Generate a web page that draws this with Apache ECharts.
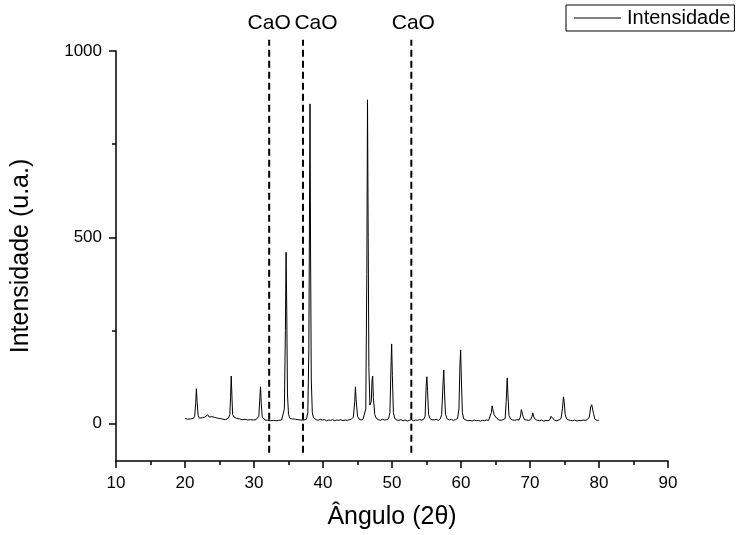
<!DOCTYPE html>
<html>
<head>
<meta charset="utf-8">
<script src="https://cdn.jsdelivr.net/npm/echarts@6/dist/echarts.min.js"></script>
<style>html,body{margin:0;padding:0;background:#fff;}#c{width:742px;height:535px;}</style>
</head>
<body>
<div id="c"></div>
<script>
// 2θ angles and measured intensities
const angles = [
20.0,20.2,20.4,20.6,20.8,21.0,21.2,21.4,21.55,21.65,21.75,21.9,22.1,22.3,22.5,22.7,22.9,23.1,23.3,23.5,23.7,23.9,24.1,24.3,24.5,24.7,24.9,25.1,25.3,25.5,25.7,25.9,26.1,26.3,26.5,26.6,26.7,26.8,26.9,27.1,27.3,27.5,27.7,27.9,28.1,28.3,28.5,28.7,28.9,29.1,29.3,29.5,29.7,29.9,30.1,30.3,30.5,30.7,30.85,30.95,31.05,31.2,31.4,31.6,31.8,32.0,32.2,32.4,32.6,32.8,33.0,33.2,33.4,33.6,33.8,34.0,34.2,34.4,34.55,34.65,34.75,34.85,35.0,35.2,35.4,35.6,35.8,36.0,36.2,36.4,36.6,36.8,37.0,37.2,37.4,37.6,37.8,37.95,38.05,38.12,38.2,38.3,38.45,38.6,38.8,39.0,39.3,39.6,39.9,40.2,40.5,40.8,41.1,41.4,41.7,42.0,42.3,42.6,42.9,43.2,43.5,43.8,44.1,44.4,44.6,44.7,44.8,45.0,45.2,45.5,45.8,46.0,46.2,46.35,46.45,46.55,46.65,46.8,47.0,47.1,47.2,47.3,47.5,47.7,48.0,48.3,48.6,48.9,49.2,49.5,49.7,49.85,49.95,50.05,50.2,50.4,50.7,51.0,51.3,51.6,51.9,52.2,52.5,52.8,53.1,53.4,53.7,54.0,54.3,54.6,54.8,54.95,55.05,55.15,55.3,55.5,55.8,56.1,56.4,56.7,57.0,57.2,57.4,57.5,57.6,57.75,58.0,58.3,58.6,58.9,59.2,59.5,59.7,59.85,59.95,60.05,60.2,60.4,60.7,61.0,61.3,61.6,61.9,62.2,62.5,62.8,63.1,63.4,63.7,64.0,64.2,64.4,64.5,64.6,64.8,65.0,65.2,65.5,65.8,66.1,66.4,66.55,66.7,66.8,66.95,67.2,67.5,67.8,68.1,68.4,68.6,68.75,68.85,69.0,69.2,69.5,69.8,70.1,70.3,70.4,70.55,70.8,71.1,71.4,71.7,72.0,72.3,72.6,72.9,73.05,73.15,73.3,73.6,73.9,74.2,74.5,74.7,74.85,74.95,75.1,75.3,75.6,75.9,76.2,76.5,76.8,77.1,77.4,77.7,78.0,78.3,78.6,78.8,78.95,79.05,79.2,79.4,79.6,79.8,80.0
];
const intensity = [
14,16,12,15,13,17,14,20,55,94,60,22,15,13,16,12,18,16,24,18,22,19,21,17,20,15,17,14,16,12,14,11,13,15,25,70,128,75,25,18,20,14,16,13,15,11,13,12,14,10,13,11,12,10,13,11,14,20,70,99,55,18,13,10,12,9,11,8,10,9,11,8,10,9,11,10,13,40,250,460,300,80,25,14,11,13,10,12,9,11,8,10,7,10,9,12,30,200,600,858,450,120,30,17,13,11,9,12,10,11,8,10,9,11,8,10,9,11,8,10,9,11,12,18,60,99,65,20,13,10,12,14,40,400,869,500,150,50,60,115,128,70,25,15,11,9,12,10,11,13,30,150,214,130,30,14,10,9,11,8,10,7,9,11,8,10,9,11,10,12,20,100,126,90,25,14,11,10,12,9,13,25,110,144,90,25,13,10,12,9,11,14,40,160,198,120,30,13,10,8,9,7,10,8,9,7,9,8,10,9,12,30,48,40,24,20,14,10,9,11,14,60,123,80,22,12,10,9,11,10,18,38,40,20,11,10,9,11,20,29,18,11,9,8,10,7,9,8,11,20,24,14,9,8,10,14,40,72,60,25,13,10,9,8,10,7,9,8,10,9,11,18,45,51,48,28,12,9,8,10
];
// CaO reference lines
const caoAngles = [32.2, 37.1, 52.8];
const caoLabel = 'CaO';
const caoSpan = [-78, 1030];
// axis ticks
const xTicks = [10, 90, 10];
const yMajor = [0, 500, 1000];
const yMinor = [250, 750];
const yRange = [-100, 1000];

const font = 'Liberation Sans';
const labelPad = [[0, 0, 0, 0], [0, 0, 0, 26], [0, 0, 0, 4]];
const mainData = angles.map((a, i) => [a, intensity[i]]);
const caoSeries = caoAngles.map((a, k) => ({
  type: 'line',
  silent: true,
  clip: false,
  symbol: 'none',
  z: 1,
  labelLayout: { hideOverlap: false },
  lineStyle: { color: '#000', width: 2, type: [7, 4] },
  data: [
    [a, caoSpan[0]],
    { value: [a, caoSpan[1]], symbol: 'circle', symbolSize: 0,
      label: { show: true, formatter: caoLabel, position: 'top', distance: 6, padding: labelPad[k],
        fontFamily: font, fontSize: 21, color: '#000' } }
  ]
}));

const chart = echarts.init(document.getElementById('c'), null, { renderer: 'canvas' });
chart.setOption({
  animation: false,
  backgroundColor: '#fff',
  grid: { left: 116, right: 74, top: 51, bottom: 73, containLabel: false },
  legend: {
    data: [{ name: 'Intensidade', icon: 'rect' }],
    left: 566, top: 5,
    borderColor: '#000', borderWidth: 1, borderRadius: 0,
    padding: [3, 4, 3, 8],
    itemWidth: 47, itemHeight: 1, itemGap: 6,
    itemStyle: { color: '#000', borderWidth: 0 },
    textStyle: { fontFamily: font, fontSize: 20, color: '#000', padding: [0, 0, 0, 1] }
  },
  xAxis: {
    type: 'value', min: xTicks[0], max: xTicks[1], interval: xTicks[2],
    name: 'Ângulo (2θ)', nameLocation: 'middle', nameGap: 44,
    nameTextStyle: { fontFamily: font, fontSize: 25, color: '#000' },
    axisLine: { show: true, onZero: false, lineStyle: { color: '#000', width: 1.5 } },
    axisTick: { show: true, inside: false, length: 7, lineStyle: { color: '#000', width: 1.5 } },
    minorTick: { show: true, splitNumber: 2, length: 4, lineStyle: { color: '#000', width: 1.5 } },
    axisLabel: { fontFamily: font, fontSize: 17, color: '#000', margin: 14, formatter: v => String(v) },
    splitLine: { show: false }
  },
  yAxis: [{
    type: 'value', min: yRange[0], max: yRange[1],
    name: 'Intensidade (u.a.)', nameLocation: 'middle', nameGap: 82,
    nameTextStyle: { fontFamily: font, fontSize: 25, color: '#000' },
    axisLine: { show: true, onZero: false, lineStyle: { color: '#000', width: 1.5 } },
    axisTick: { show: true, inside: false, length: 7, customValues: yMajor, lineStyle: { color: '#000', width: 1.5 } },
    axisLabel: { fontFamily: font, fontSize: 17, color: '#000', margin: 14, customValues: yMajor, formatter: v => String(v) },
    splitLine: { show: false }
  }, {
    type: 'value', min: yRange[0], max: yRange[1], position: 'left',
    axisLine: { show: false },
    axisTick: { show: true, inside: false, length: 4, customValues: yMinor, lineStyle: { color: '#000', width: 1.5 } },
    axisLabel: { show: false },
    splitLine: { show: false }
  }],
  series: [{
    name: 'Intensidade',
    type: 'line',
    symbol: 'none',
    z: 3,
    lineStyle: { color: '#000', width: 1 },
    itemStyle: { color: '#000' },
    data: mainData
  }].concat(caoSeries)
});
</script>
</body>
</html>
